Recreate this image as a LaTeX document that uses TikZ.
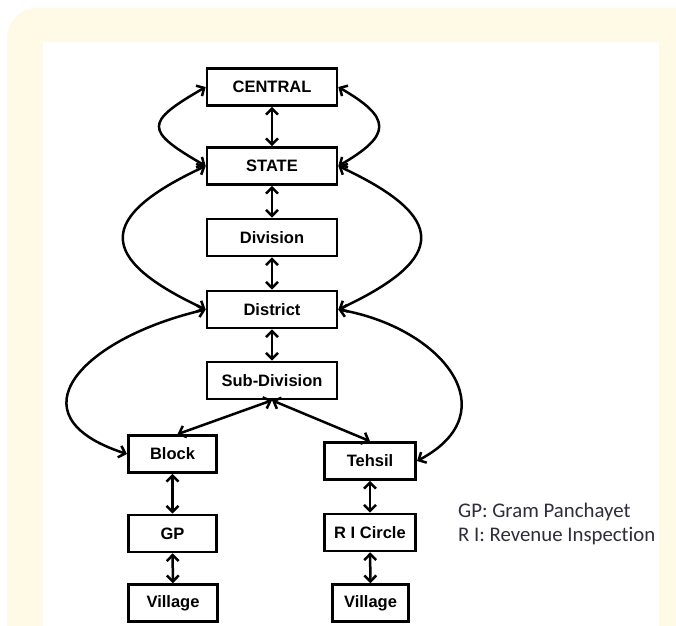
\documentclass[tikz,border=0pt]{standalone}
\usepackage{fontspec}
\setmainfont{Liberation Sans}
\newfontfamily\legendfont[Ligatures={NoCommon}]{Carlito}
\usetikzlibrary{arrows.meta}
\definecolor{bgyellow}{RGB}{255,250,230}
\definecolor{legendgray}{RGB}{45,45,60}
\begin{document}
\begin{tikzpicture}[x=1pt,y=1pt,
  box/.style={draw, line width=2.6pt, minimum height=37pt, inner sep=0pt,
    font=\fontsize{16.5}{19}\selectfont\bfseries},
  wide/.style={box, minimum width=130pt},
  small/.style={box, minimum width=88.5pt},
  link/.style={line width=2.5pt,
    {Straight Barb[length=6pt,width=12pt]}-{Straight Barb[length=6pt,width=12pt]}},
  legend/.style={anchor=base west, inner sep=0pt, text=legendgray,
    font=\legendfont\fontsize{20.8}{24}\selectfont},
]
\useasboundingbox (0,0) rectangle (676,-625);
\fill[bgyellow, rounded corners=30pt] (7,-8) rectangle (720,-680);
\fill[white] (43,-42) rectangle (659,-640);

\node[wide] (central)  at (272,-87)    {CENTRAL};
\node[wide] (state)    at (272,-166)   {STATE};
\node[wide] (division) at (272,-237.5) {Division};
\node[wide] (district) at (272,-309.5) {District};
\node[wide] (sub)      at (272,-380.5) {Sub-Division};

\node[small] (block)  at (172.5,-454)   {Block};
\node[small] (gp)     at (172.5,-533.5) {GP};
\node[small] (villl)  at (173,-603)     {Village};

\node[box, minimum width=91.5pt] (tehsil) at (370,-461)   {Tehsil};
\node[box, minimum width=91.5pt] (ric)    at (370,-532.5) {R I Circle};
\node[box, minimum width=76.5pt] (villr)  at (370.5,-603) {Village};

\node[legend] (leg1) at (458,-517) {GP: Gram Panchayet};
\node[legend] (leg2) at (458,-541) {R I: Revenue Inspection};

% vertical links
\draw[link] (central) -- (state);
\draw[link] (state) -- (division);
\draw[link] (division) -- (district);
\draw[link] (district) -- (sub);
\draw[link] (block) -- (gp);
\draw[link] (gp) -- (villl);
\draw[link] (tehsil) -- (ric);
\draw[link] (ric) -- (villr);

% diagonal links
\draw[link] (sub.south) -- ([xshift=5pt]block.north);
\draw[link] (sub.south) -- (tehsil.north);

% curved links
\draw[link] (central.west) .. controls +(210:71) and +(150:71) .. (state.west);
\draw[link] (central.east) .. controls +(-30:62) and +(30:62) .. (state.east);
\draw[link] (state.west) .. controls +(205:121) and +(155:121) .. (district.west);
\draw[link] (state.east) .. controls +(-25:121) and +(25:121) .. (district.east);
\draw[link] (district.west) .. controls +(193:125) and +(162:125) .. (block.west);
\draw[link] (district.east) .. controls +(-10:105) and +(28:105) .. (tehsil.east);
\end{tikzpicture}
\end{document}
